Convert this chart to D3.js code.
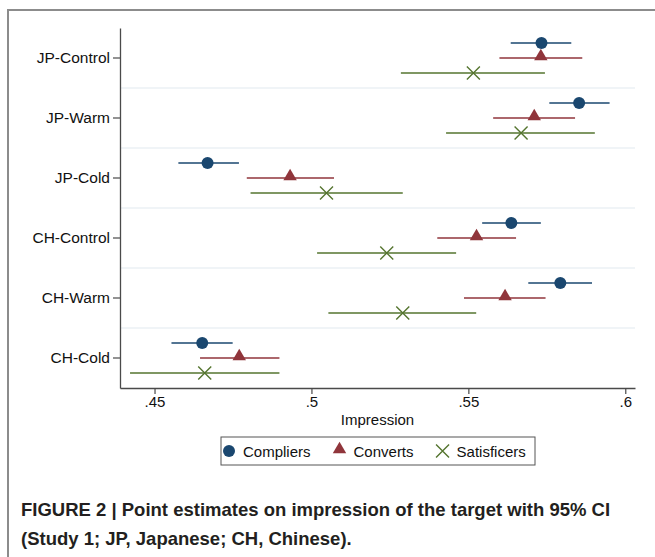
<!DOCTYPE html>
<html>
<head>
<meta charset="utf-8">
<script src="https://cdn.jsdelivr.net/npm/d3@7"></script>
<style>
  body { margin: 0; background: #fff; }
  text { font-family: "Liberation Sans", Arial, sans-serif; }
</style>
</head>
<body>
<div id="chart"></div>
<script>
// Values (impression, 95% CI)
var categories = ["JP-Control", "JP-Warm", "JP-Cold", "CH-Control", "CH-Warm", "CH-Cold"];
var series = ["Compliers", "Converts", "Satisficers"];

var compliersMean = [0.5733, 0.5853, 0.4669, 0.5637, 0.5793, 0.4652];
var compliersLow  = [0.5635, 0.5758, 0.4576, 0.5544, 0.5691, 0.4554];
var compliersHigh = [0.5828, 0.5950, 0.4769, 0.5731, 0.5894, 0.4749];

var convertsMean = [0.5731, 0.5710, 0.4932, 0.5526, 0.5617, 0.4770];
var convertsLow  = [0.5599, 0.5579, 0.4794, 0.5401, 0.5486, 0.4645];
var convertsHigh = [0.5863, 0.5840, 0.5072, 0.5652, 0.5746, 0.4898];

var satisficersMean = [0.5516, 0.5668, 0.5048, 0.5240, 0.5291, 0.4660];
var satisficersLow  = [0.5285, 0.5429, 0.4806, 0.5018, 0.5054, 0.4422];
var satisficersHigh = [0.5744, 0.5903, 0.5291, 0.5461, 0.5525, 0.4898];

var xTicks = [0.45, 0.5, 0.55, 0.6];

var width = 655, height = 557;
var plot = { left: 120, right: 635, top: 28, bottom: 388 };
var colors = { Compliers: "#1a476f", Converts: "#90353b", Satisficers: "#55752f" };

// build rows for drawing
var rows = [];
[[compliersMean, compliersLow, compliersHigh],
 [convertsMean, convertsLow, convertsHigh],
 [satisficersMean, satisficersLow, satisficersHigh]].forEach(function (s, si) {
   categories.forEach(function (c, i) {
      rows.push({ cat: c, series: series[si], mean: s[0][i], low: s[1][i], high: s[2][i] });
   });
});

var svg = d3.select("#chart").append("svg")
   .attr("width", width)
   .attr("height", height);

// outer frame (left + top only, like the cropped figure)
svg.append("path")
   .attr("d", "M8," + height + "V10H" + width)
   .attr("fill", "none")
   .attr("stroke", "#8c8c8c")
   .attr("stroke-width", 2);

// scales
var x = d3.scaleLinear()
   .domain([0.4390, 0.6031])
   .range([plot.left, plot.right]);

var y = d3.scaleBand()
   .domain(categories)
   .range([plot.top, plot.bottom]);

var offset = d3.scalePoint()
   .domain(series)
   .range([-15, 15]);

// light separators between categories
svg.append("g").selectAll("line")
   .data(categories.slice(1))
   .enter().append("line")
   .attr("x1", plot.left)
   .attr("x2", plot.right)
   .attr("y1", function (d) { return y(d); })
   .attr("y2", function (d) { return y(d); })
   .attr("stroke", "#e1eaef")
   .attr("stroke-width", 1.2);

// axes
var yAxis = svg.append("g")
   .attr("transform", "translate(" + plot.left + ",0)")
   .call(d3.axisLeft(y).tickSize(7).tickSizeOuter(0).tickPadding(3));

var xAxis = svg.append("g")
   .attr("transform", "translate(0," + plot.bottom + ")")
   .call(d3.axisBottom(x).tickValues(xTicks).tickSize(6).tickSizeOuter(0).tickPadding(2)
      .tickFormat(function (d) { return String(d).replace(/^0/, ""); }));

[yAxis, xAxis].forEach(function (g) {
   g.select(".domain").attr("stroke", "#4a4a4a").attr("stroke-width", 1.3);
   g.selectAll(".tick line").attr("stroke", "#4a4a4a").attr("stroke-width", 1.2);
   g.selectAll(".tick text").attr("fill", "#111").style("font-size", "15px")
      .style("font-family", "'Liberation Sans', Arial, sans-serif");
});
yAxis.selectAll(".tick text").style("font-size", "15.5px");

// axis title
svg.append("text")
   .attr("x", (plot.left + plot.right) / 2)
   .attr("y", 425)
   .attr("text-anchor", "middle")
   .attr("fill", "#111")
   .style("font-size", "15px")
   .text("Impression");

function rowY(d) { return y(d.cat) + y.bandwidth() / 2 + offset(d.series); }

// confidence intervals
svg.append("g").selectAll("line")
   .data(rows)
   .enter().append("line")
   .attr("x1", function (d) { return x(d.low); })
   .attr("x2", function (d) { return x(d.high); })
   .attr("y1", rowY)
   .attr("y2", rowY)
   .attr("stroke", function (d) { return colors[d.series]; })
   .attr("stroke-width", 1.6);

// marker drawing helper
function drawMarker(sel, name, cx, cy) {
   if (name === "Compliers") {
      sel.append("circle").attr("cx", cx).attr("cy", cy).attr("r", 6)
         .attr("fill", colors[name]);
   } else if (name === "Converts") {
      sel.append("path")
         .attr("d", d3.symbol().type(d3.symbolTriangle).size(78)())
         .attr("transform", "translate(" + cx + "," + (cy - 1.5) + ")")
         .attr("fill", colors[name]);
   } else {
      var s = 6.5;
      sel.append("path")
         .attr("d", "M" + (cx - s) + "," + (cy - s) + "L" + (cx + s) + "," + (cy + s) +
                    "M" + (cx - s) + "," + (cy + s) + "L" + (cx + s) + "," + (cy - s))
         .attr("stroke", colors[name])
         .attr("stroke-width", 1.4)
         .attr("fill", "none");
   }
}

var markers = svg.append("g");
rows.forEach(function (d) {
   drawMarker(markers, d.series, x(d.mean), rowY(d));
});

// legend
var legend = svg.append("g");
legend.append("rect")
   .attr("x", 221).attr("y", 437)
   .attr("width", 314).attr("height", 28)
   .attr("fill", "#fff")
   .attr("stroke", "#555")
   .attr("stroke-width", 1);

var lx = 229;
series.forEach(function (name) {
   drawMarker(legend, name, lx, 451);
   var t = legend.append("text")
      .attr("x", lx + 14)
      .attr("y", 456.5)
      .attr("fill", "#111")
      .style("font-size", "15px")
      .text(name);
   lx = lx + 14 + t.node().getComputedTextLength() + 29;
});

// caption
var caption = ["FIGURE 2 | Point estimates on impression of the target with 95% CI",
   "(Study 1; JP, Japanese; CH, Chinese)."];
svg.append("g").selectAll("text")
   .data(caption)
   .enter().append("text")
   .attr("x", 21)
   .attr("y", function (d, i) { return 516 + i * 29; })
   .attr("fill", "#231f20")
   .style("font-size", "18.5px")
   .style("font-weight", "bold")
   .text(function (d) { return d; });
</script>
</body>
</html>
